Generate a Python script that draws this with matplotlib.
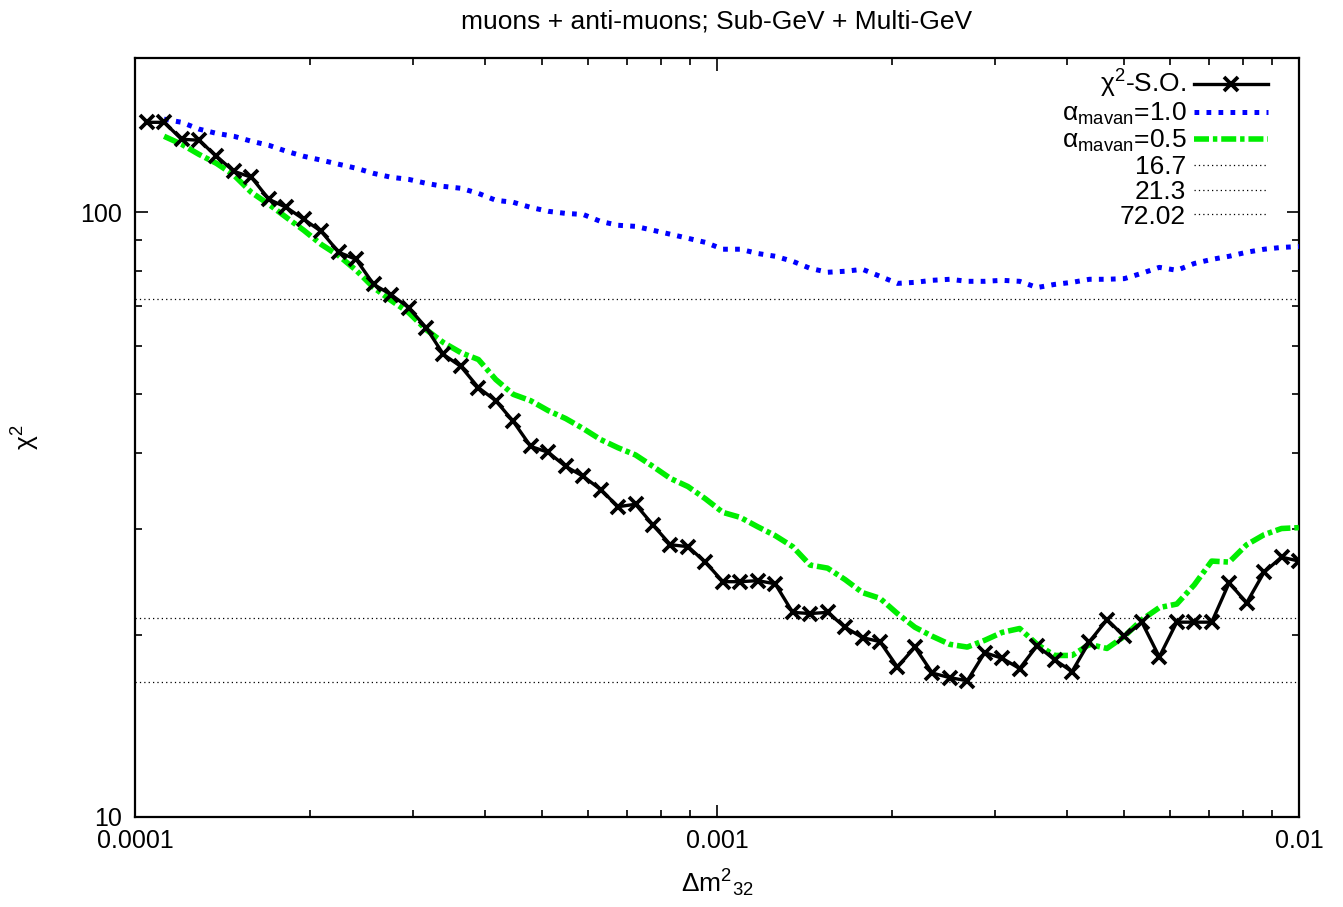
import matplotlib
matplotlib.use("Agg")
import matplotlib.pyplot as plt
from matplotlib.ticker import FixedLocator, NullFormatter, FixedFormatter, LogLocator

plt.rcParams['font.family'] = ['Liberation Sans', 'DejaVu Sans']
plt.rcParams['mathtext.default'] = 'regular'

# ---- data ----
dm2 = [1.0471e-4, 1.1220e-4, 1.2023e-4, 1.2882e-4, 1.3804e-4, 1.4791e-4, 1.5849e-4,
       1.6982e-4, 1.8197e-4, 1.9498e-4, 2.0893e-4, 2.2387e-4, 2.3988e-4, 2.5704e-4,
       2.7542e-4, 2.9512e-4, 3.1623e-4, 3.3884e-4, 3.6308e-4, 3.8905e-4, 4.1687e-4,
       4.4668e-4, 4.7863e-4, 5.1286e-4, 5.4954e-4, 5.8884e-4, 6.3096e-4, 6.7608e-4,
       7.2444e-4, 7.7625e-4, 8.3176e-4, 8.9125e-4, 9.5499e-4, 1.0233e-3, 1.0965e-3,
       1.1749e-3, 1.2589e-3, 1.3490e-3, 1.4454e-3, 1.5488e-3, 1.6596e-3, 1.7783e-3,
       1.9055e-3, 2.0417e-3, 2.1878e-3, 2.3442e-3, 2.5119e-3, 2.6915e-3, 2.8840e-3,
       3.0903e-3, 3.3113e-3, 3.5481e-3, 3.8019e-3, 4.0738e-3, 4.3652e-3, 4.6774e-3,
       5.0119e-3, 5.3703e-3, 5.7544e-3, 6.1660e-3, 6.6069e-3, 7.0795e-3, 7.5858e-3,
       8.1283e-3, 8.7096e-3, 9.3325e-3, 1.0000e-2]

chi2_so = [140.9, 140.9, 132.1, 131.6, 123.8, 116.9, 114.3, 105.1, 101.9, 97.4,
           93.0, 85.9, 83.6, 76.0, 73.1, 69.6, 64.5, 58.2, 55.6, 51.3,
           48.8, 45.1, 41.0, 40.1, 38.0, 36.6, 34.8, 32.6, 32.9, 30.4,
           28.2, 28.0, 26.4, 24.5, 24.5, 24.6, 24.3, 21.8, 21.7, 21.8,
           20.6, 19.8, 19.5, 17.7, 19.1, 17.3, 17.0, 16.8, 18.7, 18.3,
           17.6, 19.2, 18.2, 17.4, 19.5, 21.2, 19.9, 21.0, 18.4, 21.0,
           21.0, 21.0, 24.4, 22.6, 25.4, 26.9, 26.5]

# the two MaVaN curves start at the second grid point
dm2_mavan = dm2[1:]
chi2_mavan_10 = [142.6, 140.9, 137.3, 135.1, 133.6, 131.1, 129.1, 126.2, 123.8, 122.0,
                 120.1, 118.3, 116.0, 114.3, 113.4, 111.7, 110.4, 109.6, 107.5, 104.7,
                 103.9, 101.9, 100.4, 99.6, 99.2, 96.6, 95.2, 94.8, 93.4, 92.0,
                 90.6, 89.2, 86.9, 86.9, 85.5, 84.6, 83.0, 80.8, 79.6, 79.9,
                 80.5, 78.4, 76.3, 76.6, 77.2, 77.5, 76.9, 76.9, 77.2, 76.9,
                 75.1, 76.0, 76.6, 77.5, 77.5, 77.7, 79.3, 81.1, 80.2, 82.3,
                 83.6, 84.6, 85.9, 86.9, 87.5, 87.8]
chi2_mavan_05 = [133.6, 129.6, 124.7, 120.5, 115.2, 107.9, 103.1, 98.1, 93.4, 88.5,
                 84.8, 80.2, 75.1, 71.5, 68.3, 64.0, 60.9, 58.6, 57.1, 52.9,
                 50.0, 48.8, 47.0, 45.6, 43.9, 42.1, 40.8, 39.7, 38.0, 36.3,
                 35.2, 33.6, 31.9, 31.3, 30.2, 29.2, 28.0, 26.1, 25.8, 24.7,
                 23.5, 23.0, 21.7, 20.6, 19.9, 19.3, 19.1, 19.6, 20.2, 20.5,
                 19.3, 18.5, 18.5, 19.3, 19.0, 19.9, 21.2, 22.2, 22.5, 24.2,
                 26.5, 26.4, 28.2, 29.3, 30.0, 30.1]

ref_levels = [16.7, 21.3, 72.02]
ref_labels = ["16.7", "21.3", "72.02"]

xticks = [1e-4, 1e-3, 1e-2]
xtick_labels = ["0.0001", "0.001", "0.01"]
yticks = [10, 100]
ytick_labels = ["10", "100"]

FS_TICK = 18
FS_TEXT = 19

fig = plt.figure(figsize=(13.43, 9.07), dpi=100)
ax = fig.add_axes([135/1343, 1-817/907, (1299-135)/1343, (817-58)/907])

ax.set_xscale('log')
ax.set_yscale('log')
ax.set_xlim(1e-4, 1e-2)
ax.set_ylim(10, 180)

ax.plot(dm2, chi2_so, color='black', lw=2.4, marker='x', ms=10.5, mew=2.7,
        label=r'$\chi^2$-S.O.', zorder=5)
ax.plot(dm2_mavan, chi2_mavan_10, color='#0000ff', lw=3.6,
        linestyle=(0, (0.95, 1.45)), dash_capstyle='butt',
        label=r'$α_{mavan}$=1.0', zorder=4)
ax.plot(dm2_mavan, chi2_mavan_05, color='#00ee00', lw=4.0,
        linestyle=(0, (2.7, 0.7, 0.8, 0.7)), dash_capstyle='butt',
        label=r'$α_{mavan}$=0.5', zorder=3)
for lev, lab in zip(ref_levels, ref_labels):
    ax.axhline(lev, color='black', lw=0.9, linestyle=(0, (1, 2.5)), label=lab, zorder=2)

ax.xaxis.set_major_locator(FixedLocator(xticks))
ax.xaxis.set_major_formatter(FixedFormatter(xtick_labels))
ax.xaxis.set_minor_locator(LogLocator(base=10, subs=range(2, 10), numticks=20))
ax.xaxis.set_minor_formatter(NullFormatter())
ax.yaxis.set_major_locator(FixedLocator(yticks))
ax.yaxis.set_major_formatter(FixedFormatter(ytick_labels))
ax.yaxis.set_minor_locator(LogLocator(base=10, subs=range(2, 10), numticks=20))
ax.yaxis.set_minor_formatter(NullFormatter())

ax.tick_params(which='both', direction='in', top=True, right=True, colors='black')
ax.tick_params(which='major', length=9, width=1.2, labelsize=FS_TICK, pad=9)
ax.tick_params(which='minor', length=5, width=1.2)
for s in ax.spines.values():
    s.set_linewidth(1.6)

ax.set_xlabel(r'$Δm^2{}_{32}$', fontsize=FS_TEXT, labelpad=10)
ax.set_ylabel(r'$\chi^2$', fontsize=FS_TEXT, labelpad=28)
ax.set_title('muons + anti-muons; Sub-GeV + Multi-GeV', fontsize=FS_TEXT, pad=21)

leg = ax.legend(loc='upper right', bbox_to_anchor=(0.9734, 0.9868),
                frameon=False, markerfirst=False, fontsize=FS_TEXT,
                handlelength=2.8, handletextpad=0.3, labelspacing=0.03,
                borderaxespad=0.0, borderpad=0.0)

fig.savefig('out.png', dpi=100)
